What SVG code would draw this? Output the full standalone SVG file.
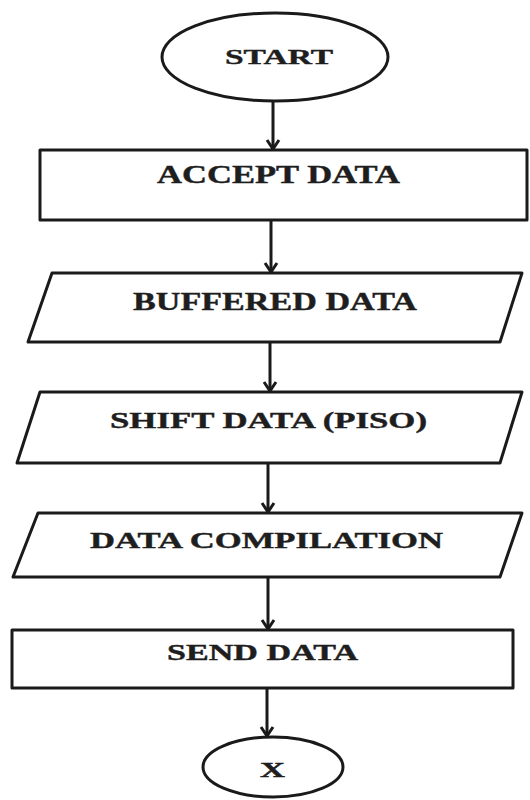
<svg xmlns="http://www.w3.org/2000/svg" width="530" height="800" viewBox="0 0 530 800">
  <style>
    .shape { fill: #ffffff; stroke: #1a1a1a; stroke-width: 3; stroke-linejoin: round; }
    .label { font-family: "Liberation Serif", "Times New Roman", serif; font-weight: bold; font-size: 23px; fill: #1e1e1e; stroke: #1e1e1e; stroke-width: 0.4; }
    .link { fill: none; stroke: #1a1a1a; stroke-width: 3; }
  </style>
  <defs>
    <!-- chevron arrowhead, drawn along +x so it follows the line direction -->
    <marker id="arrow" markerUnits="userSpaceOnUse" markerWidth="14" markerHeight="16" refX="12" refY="8" orient="auto" viewBox="0 0 14 16">
      <path d="M3,2 L12,8 L3,14" fill="none" stroke="#1a1a1a" stroke-width="3" stroke-linejoin="miter"/>
    </marker>
  </defs>
  <rect width="530" height="800" fill="#ffffff"/>

  <g id="connectors">
    <line class="link" x1="273" y1="101" x2="273" y2="149" marker-end="url(#arrow)"/>
    <line class="link" x1="271" y1="221" x2="271" y2="272" marker-end="url(#arrow)"/>
    <line class="link" x1="270" y1="343" x2="270" y2="391" marker-end="url(#arrow)"/>
    <line class="link" x1="268" y1="464" x2="268" y2="512" marker-end="url(#arrow)"/>
    <line class="link" x1="268" y1="578" x2="268" y2="629" marker-end="url(#arrow)"/>
    <line class="link" x1="267" y1="689" x2="267" y2="736" marker-end="url(#arrow)"/>
  </g>

  <g id="start">
    <ellipse class="shape" cx="275" cy="57" rx="113" ry="44"/>
    <text class="label" x="225" y="64" textLength="108" lengthAdjust="spacingAndGlyphs" style="font-size:22px">START</text>
  </g>

  <g id="accept-data">
    <rect class="shape" x="40" y="150" width="487" height="70"/>
    <text class="label" x="157" y="183" textLength="243" lengthAdjust="spacingAndGlyphs" style="font-size:25px">ACCEPT DATA</text>
  </g>

  <g id="buffered-data">
    <polygon class="shape" points="52,273 522,273 500,342 28,342"/>
    <text class="label" x="133" y="310" textLength="284" lengthAdjust="spacingAndGlyphs" style="font-size:25px">BUFFERED DATA</text>
  </g>

  <g id="shift-data">
    <polygon class="shape" points="40,392 522,392 500,463 17,463"/>
    <text class="label" x="110" y="428" textLength="317" lengthAdjust="spacingAndGlyphs">SHIFT DATA (PISO)</text>
  </g>

  <g id="data-compilation">
    <polygon class="shape" points="38,513 522,513 500,577 13,577"/>
    <text class="label" x="90" y="548" textLength="353" lengthAdjust="spacingAndGlyphs">DATA COMPILATION</text>
  </g>

  <g id="send-data">
    <rect class="shape" x="12" y="630" width="501" height="58"/>
    <text class="label" x="167" y="660" textLength="191" lengthAdjust="spacingAndGlyphs">SEND DATA</text>
  </g>

  <g id="connector-x">
    <ellipse class="shape" cx="273" cy="767" rx="70" ry="30"/>
    <text class="label" x="260" y="777" textLength="25" lengthAdjust="spacingAndGlyphs" style="font-size:20px">X</text>
  </g>
</svg>
